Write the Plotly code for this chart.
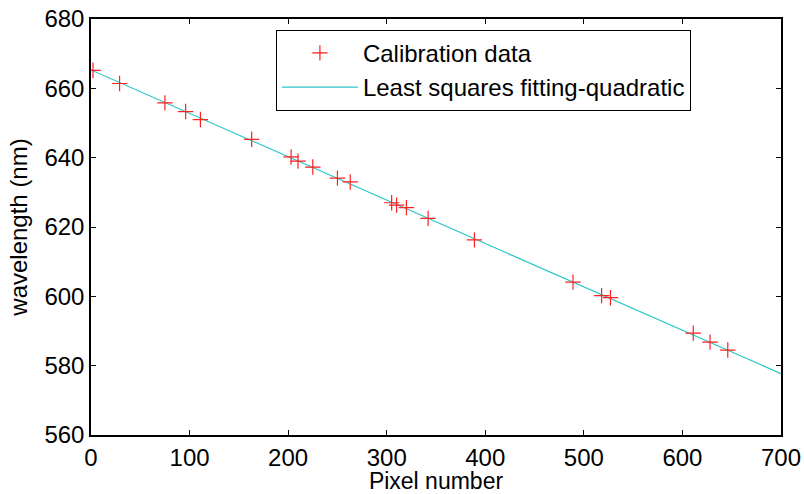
import plotly.graph_objects as go

# Calibration data (pixel, wavelength nm)
pixel = [2, 29, 75, 96, 111, 163, 203, 210, 225, 250, 263, 305, 310, 320, 342, 389, 489, 518, 527, 611, 628, 646]
wavelength = [665.2, 661.4, 655.8, 653.3, 651.0, 645.3, 640.2, 639.0, 637.3, 634.1, 633.0, 627.0, 626.3, 625.6, 622.5, 616.3, 604.1, 600.2, 599.6, 589.4, 586.8, 584.5]

# Least-squares quadratic fit curve
fit_x = [0, 100, 200, 300, 400, 500, 600, 700]
fit_y = [665.3, 652.8, 640.3, 627.7, 615.1, 602.6, 590.1, 577.7]

FONT = "Liberation Sans, Arial"

fig = go.Figure()
fig.add_trace(go.Scatter(
    x=fit_x, y=fit_y, mode="lines", name="Least squares fitting-quadratic",
    line=dict(color="#2ec8c8", width=1.2), legendrank=2))
fig.add_trace(go.Scatter(
    x=pixel, y=wavelength, mode="markers", name="Calibration data",
    marker=dict(symbol="cross-thin", size=11, line=dict(color="#ff2020", width=1.2)),
    legendrank=1))

axis_common = dict(
    showgrid=False, zeroline=False, showline=True, linecolor="black", linewidth=1.5,
    mirror="ticks", ticks="inside", ticklen=5, tickcolor="black",
    tickfont=dict(family=FONT, size=24, color="black"),
    automargin=False, ticklabeloverflow="allow",
)

fig.update_layout(
    width=804, height=494,
    margin=dict(l=91, r=23, t=19, b=59),
    paper_bgcolor="white", plot_bgcolor="white",
    font=dict(family=FONT, color="black"),
    xaxis=dict(range=[0, 700], dtick=100, tick0=0,
               title=dict(text="Pixel number", font=dict(size=23), standoff=1), **axis_common),
    yaxis=dict(range=[560, 680], dtick=20, tick0=560,
               title=dict(text="wavelength (nm)", font=dict(size=24), standoff=10), **axis_common),
    legend=dict(x=0.268, y=0.974, xanchor="left", yanchor="top",
                bordercolor="black", borderwidth=1, bgcolor="white",
                font=dict(size=24, family=FONT),
                itemwidth=76, tracegroupgap=0),
    showlegend=True,
)

# remove the default page margin so the figure fills the window exactly
fig.write_html("out.html",
               config={"displayModeBar": False},
               post_script="document.body.style.margin='0';document.body.style.overflow='hidden';")
